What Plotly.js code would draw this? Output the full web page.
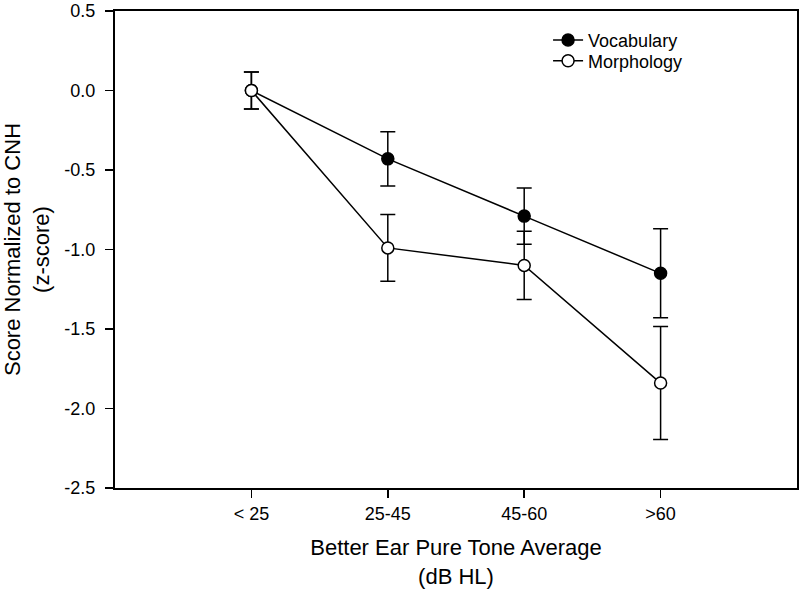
<!DOCTYPE html>
<html>
<head>
<meta charset="utf-8">
<script src="https://cdn.plot.ly/plotly-3.0.1.min.js"></script>
<style>html,body{margin:0;padding:0;background:#fff;}#chart{width:800px;height:589px;}</style>
</head>
<body>
<div id="chart"></div>
<script>
var categories = ["< 25", "25-45", "45-60", ">60"];
var vocabulary = [0.0, -0.43, -0.79, -1.15];
var vocabularyErr = [0.117, 0.17, 0.177, 0.28];
var morphology = [0.0, -0.99, -1.10, -1.84];
var morphologyErr = [0.117, 0.21, 0.215, 0.355];
var yTicks = [-2.5, -2.0, -1.5, -1.0, -0.5, 0.0, 0.5];

var xIdx = categories.map(function (c, i) { return i; });
var yTickText = yTicks.map(function (v) { return v.toFixed(1); });
var font = "Liberation Sans, Arial, sans-serif";

var traces = [
  {
    name: "Vocabulary", x: xIdx, y: vocabulary, type: "scatter", mode: "lines+markers",
    legend: "legend",
    line: {color: "#000", width: 1.5},
    marker: {symbol: "circle", size: 12, color: "#000", line: {color: "#000", width: 1.5}},
    error_y: {type: "data", array: vocabularyErr, visible: true, color: "#000", thickness: 1.5, width: 7.5}
  },
  {
    name: "Morphology", x: xIdx, y: morphology, type: "scatter", mode: "lines+markers",
    legend: "legend2",
    line: {color: "#000", width: 1.5},
    marker: {symbol: "circle", size: 12, color: "#fff", line: {color: "#000", width: 1.5}},
    error_y: {type: "data", array: morphologyErr, visible: true, color: "#000", thickness: 1.5, width: 7.5}
  }
];

var legendBase = {xanchor: "left", yanchor: "top", bgcolor: "rgba(0,0,0,0)",
                  font: {family: font, size: 18, color: "#000"}, itemwidth: 30};

var layout = {
  width: 800, height: 589,
  margin: {l: 115, r: 3, t: 11, b: 101},
  paper_bgcolor: "#fff", plot_bgcolor: "#fff",
  font: {family: font, color: "#000", size: 18},
  showlegend: true,
  legend: Object.assign({x: 0.635, y: 0.9775}, legendBase),
  legend2: Object.assign({x: 0.635, y: 0.934}, legendBase),
  xaxis: {
    range: [-1, 4], tickvals: xIdx, ticktext: categories,
    showgrid: false, zeroline: false, showline: true, linecolor: "#000", linewidth: 2, mirror: true,
    ticks: "outside", ticklen: 8, tickwidth: 1.5, tickcolor: "#000",
    tickfont: {family: font, size: 18}, ticklabelstandoff: 0,
    title: {text: "Better Ear Pure Tone Average<br>(dB HL)", font: {family: font, size: 22}, standoff: 20}
  },
  yaxis: {
    range: [-2.5, 0.5], tickvals: yTicks, ticktext: yTickText, ticklabeloverflow: "allow",
    showgrid: false, zeroline: false, showline: true, linecolor: "#000", linewidth: 2, mirror: true,
    ticks: "outside", ticklen: 8, tickwidth: 1.5, tickcolor: "#000",
    tickfont: {family: font, size: 18}, ticklabelstandoff: 6,
    title: {text: "Score Normalized to CNH<br>(z-score)", font: {family: font, size: 22}, standoff: 18}
  }
};

Plotly.newPlot("chart", traces, layout, {displayModeBar: false, staticPlot: true});
</script>
</body>
</html>
